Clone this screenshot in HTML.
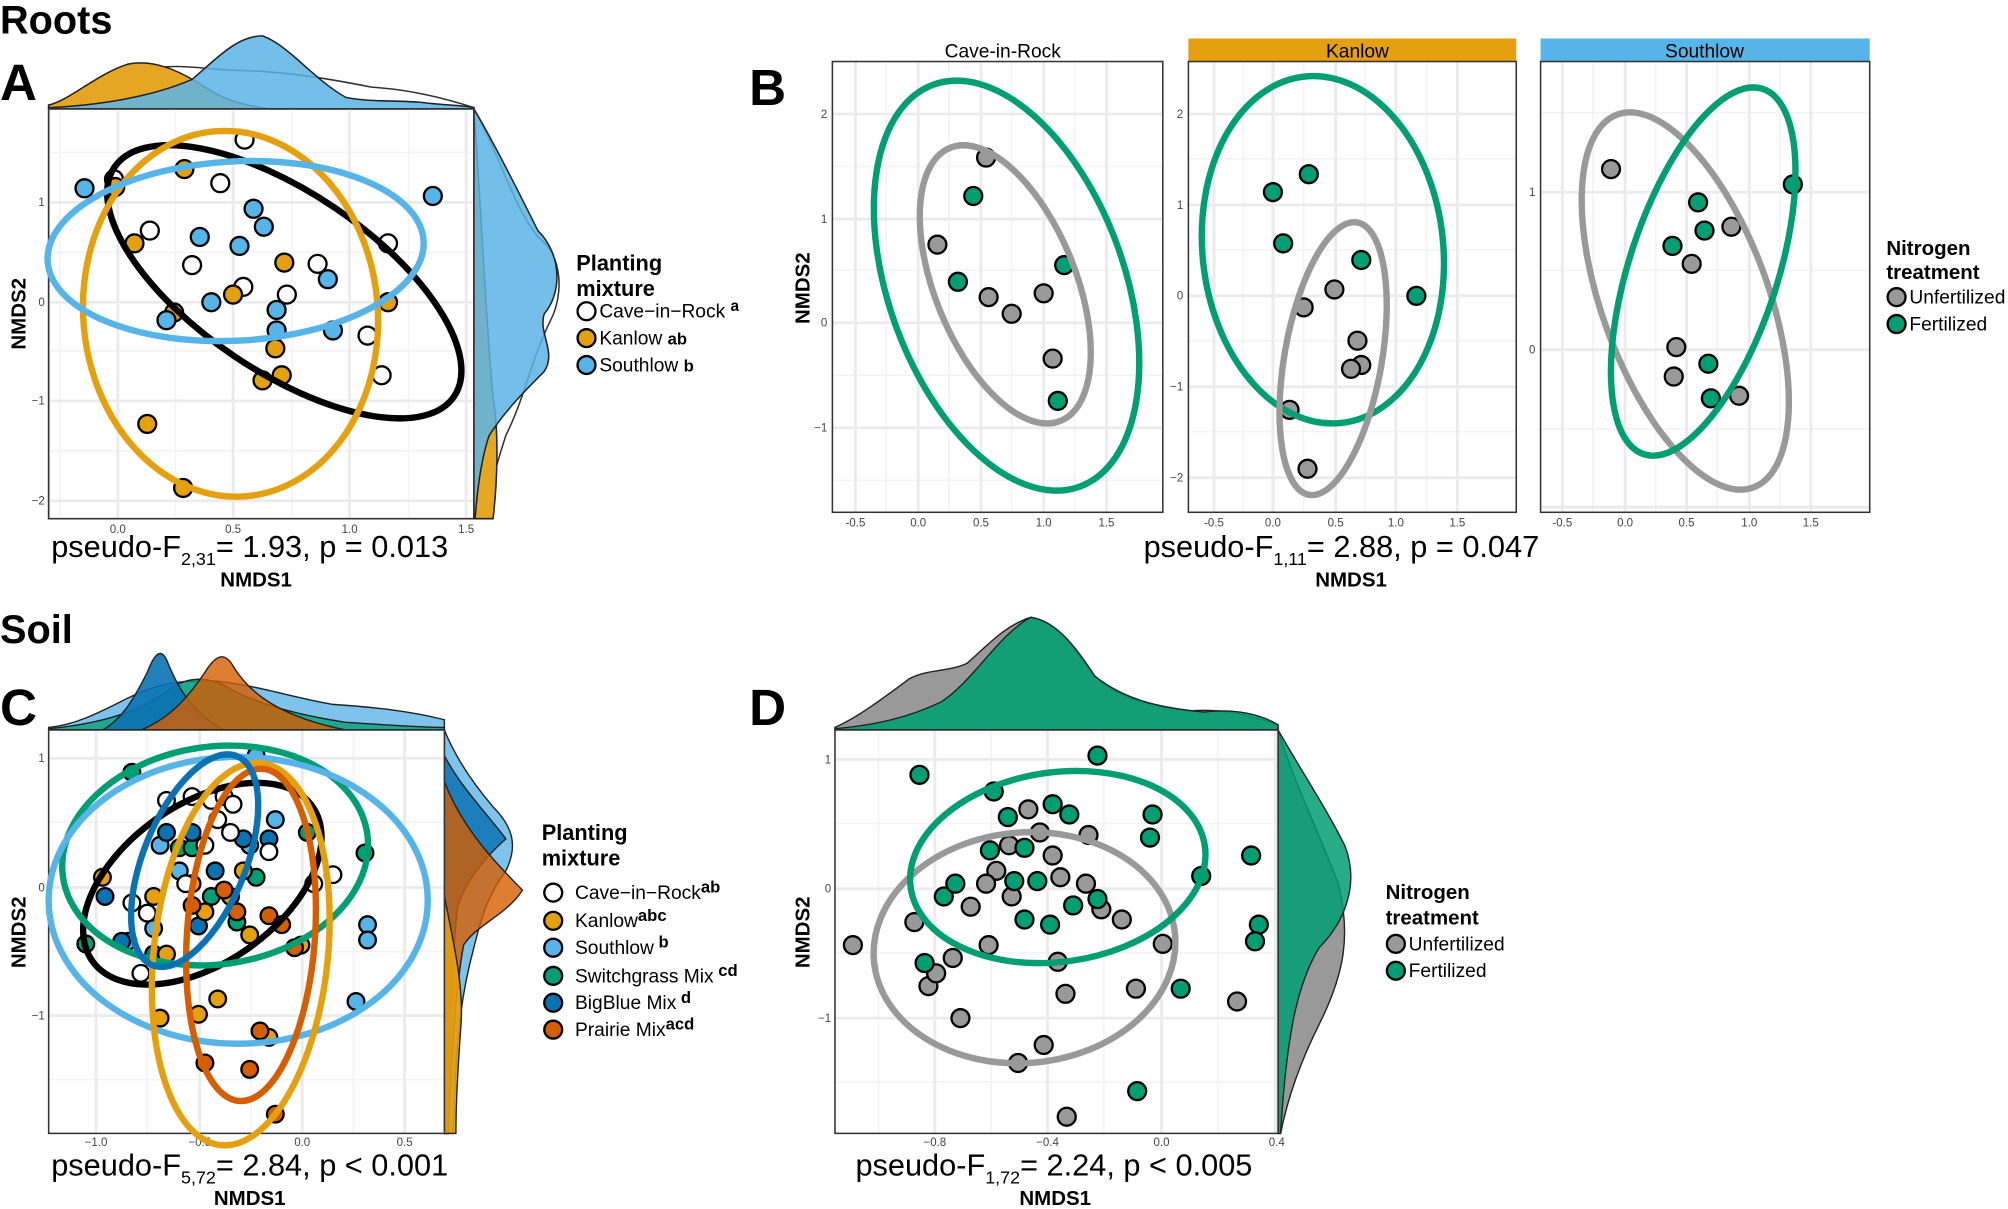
<!DOCTYPE html>
<html><head><meta charset="utf-8"><style>
html,body{margin:0;padding:0;background:#fff;}
svg{display:block;font-family:"Liberation Sans",sans-serif;}
</style></head><body>
<svg width="2008" height="1209" viewBox="0 0 1568 944" xmlns="http://www.w3.org/2000/svg">
<style>
.g{stroke:#ebebeb;stroke-width:2.2;}
.gm{stroke:#f3f3f3;stroke-width:1.2;}
.tk{font-size:9px;fill:#444;}
.pt{stroke:#000;stroke-width:1.8;}
.el{fill:none;stroke-width:5;}
.lab{font-size:16px;font-weight:bold;}
.lg{font-size:15px;}
.big{font-size:24px;}
</style>
<text x="0" y="26" font-size="31" font-weight="bold">Roots</text>
<text x="0" y="78" font-size="40" font-weight="bold">A</text>
<text x="585" y="82" font-size="40" font-weight="bold">B</text>
<text x="0" y="502" font-size="31" font-weight="bold">Soil</text>
<text x="0" y="566" font-size="40" font-weight="bold">C</text>
<text x="585" y="566" font-size="40" font-weight="bold">D</text>

<!-- ===== Panel A ===== -->
<path d="M38,82 C60,78 80,62 110,55 C140,48 160,55 190,55 C220,56 250,60 290,68 C320,70 345,76 370,84 L370,85 L38,85 Z" fill="none" stroke="#333" stroke-width="1.2"/>
<path d="M38,82 C55,78 75,58 100,50 C120,46 140,55 160,68 C175,78 190,82 210,85 L38,85 Z" fill="#e5a623" stroke="#222" stroke-width="1.2"/>
<path d="M38,84 C80,82 120,75 150,62 C170,45 185,28 205,28 C225,35 245,62 270,76 C290,80 310,78 330,80 C345,82 360,82 370,84 L370,85 L38,85 Z" fill="#5cb4e6" fill-opacity="0.85" stroke="#222" stroke-width="1.2"/>
<line x1="38" y1="85" x2="370" y2="85" stroke="#000" stroke-width="1.2"/>
<path d="M370,85 C390,120 400,160 420,185 C440,200 440,230 430,250 C415,280 410,310 395,340 C385,370 380,395 378,405 L370,405 Z" fill="none" stroke="#333" stroke-width="1.2"/>
<path d="M370,85 C375,150 380,260 385,310 C390,340 388,380 385,405 L370,405 Z" fill="#e5a623" stroke="#222" stroke-width="1.2"/>
<path d="M370,85 C385,110 405,150 420,180 C440,200 438,230 425,245 C420,260 435,275 425,290 C410,305 395,320 382,340 C375,360 372,390 371,405 L370,405 Z" fill="#5cb4e6" fill-opacity="0.85" stroke="#222" stroke-width="1.2"/>
<rect x="38" y="85" width="332" height="320" fill="#fff" stroke="#333" stroke-width="1.2"/>
<g class="gm"><line x1="47" y1="85" x2="47" y2="405"/><line x1="137" y1="85" x2="137" y2="405"/><line x1="228" y1="85" x2="228" y2="405"/><line x1="319" y1="85" x2="319" y2="405"/>
<line x1="38" y1="119" x2="370" y2="119"/><line x1="38" y1="197" x2="370" y2="197"/><line x1="38" y1="274" x2="370" y2="274"/><line x1="38" y1="352" x2="370" y2="352"/></g>
<g class="g"><line x1="92" y1="85" x2="92" y2="405"/><line x1="182" y1="85" x2="182" y2="405"/><line x1="273" y1="85" x2="273" y2="405"/><line x1="364" y1="85" x2="364" y2="405"/>
<line x1="38" y1="158" x2="370" y2="158"/><line x1="38" y1="236" x2="370" y2="236"/><line x1="38" y1="313" x2="370" y2="313"/><line x1="38" y1="391" x2="370" y2="391"/></g>
<rect x="38" y="85" width="332" height="320" fill="none" stroke="#333" stroke-width="1.2"/>
<g class="tk" text-anchor="middle"><text x="92" y="416">0.0</text><text x="182" y="416">0.5</text><text x="273" y="416">1.0</text><text x="364" y="416">1.5</text></g>
<g class="tk" text-anchor="end"><text x="35" y="161">1</text><text x="35" y="239">0</text><text x="35" y="316">−1</text><text x="35" y="394">−2</text></g>
<text class="big" x="40" y="435">pseudo-F<tspan font-size="14" dy="6">2,31</tspan><tspan dy="-6">=  1.93, p = 0.013</tspan></text>
<text class="lab" x="200" y="458" text-anchor="middle">NMDS1</text>
<text class="lab" transform="translate(20,245) rotate(-90)" text-anchor="middle">NMDS2</text>
<g class="pt">
<circle cx="89" cy="140" r="7" fill="#fff"/><circle cx="117" cy="180" r="7" fill="#fff"/><circle cx="150" cy="207" r="7" fill="#fff"/><circle cx="172" cy="143" r="7" fill="#fff"/><circle cx="191" cy="109" r="7" fill="#fff"/><circle cx="224" cy="230" r="7" fill="#fff"/><circle cx="303" cy="190" r="7" fill="#fff"/><circle cx="287" cy="262" r="7" fill="#fff"/><circle cx="298" cy="293" r="7" fill="#fff"/><circle cx="190" cy="224" r="7" fill="#fff"/><circle cx="248" cy="206" r="7" fill="#fff"/>
<circle cx="144" cy="132" r="7" fill="#e5a00f"/><circle cx="222" cy="205" r="7" fill="#e5a00f"/><circle cx="105" cy="190" r="7" fill="#e5a00f"/><circle cx="182" cy="230" r="7" fill="#e5a00f"/><circle cx="136" cy="244" r="7" fill="#e5a00f"/><circle cx="215" cy="272" r="7" fill="#e5a00f"/><circle cx="205" cy="297" r="7" fill="#e5a00f"/><circle cx="220" cy="293" r="7" fill="#e5a00f"/><circle cx="115" cy="331" r="7" fill="#e5a00f"/><circle cx="143" cy="381" r="7" fill="#e5a00f"/><circle cx="90" cy="146" r="7" fill="#e5a00f"/><circle cx="303" cy="236" r="7" fill="#e5a00f"/>
<circle cx="66" cy="147" r="7" fill="#56b4e9"/><circle cx="338" cy="153" r="7" fill="#56b4e9"/><circle cx="198" cy="163" r="7" fill="#56b4e9"/><circle cx="156" cy="185" r="7" fill="#56b4e9"/><circle cx="187" cy="192" r="7" fill="#56b4e9"/><circle cx="206" cy="177" r="7" fill="#56b4e9"/><circle cx="256" cy="218" r="7" fill="#56b4e9"/><circle cx="165" cy="236" r="7" fill="#56b4e9"/><circle cx="216" cy="242" r="7" fill="#56b4e9"/><circle cx="260" cy="258" r="7" fill="#56b4e9"/><circle cx="216" cy="258" r="7" fill="#56b4e9"/><circle cx="130" cy="250" r="7" fill="#56b4e9"/>
</g>
<ellipse class="el" cx="222" cy="220" rx="160" ry="70" transform="rotate(34 222 220)" stroke="#000"/>
<ellipse class="el" cx="180" cy="245" rx="115" ry="143" transform="rotate(-5 180 245)" stroke="#e5a00f"/>
<ellipse class="el" cx="184" cy="196" rx="147" ry="70" transform="rotate(-3 184 196)" stroke="#56b4e9"/>
<text x="450" y="211" font-size="17" font-weight="bold">Planting</text>
<text x="450" y="231" font-size="17" font-weight="bold">mixture</text>
<circle cx="458" cy="243" r="7" fill="#fff" class="pt"/><text class="lg" x="468" y="248">Cave−in−Rock <tspan font-weight="bold" font-size="12" dy="-5">a</tspan></text>
<circle cx="458" cy="264" r="7" fill="#e5a00f" class="pt"/><text class="lg" x="468" y="269">Kanlow <tspan font-weight="bold" font-size="13">ab</tspan></text>
<circle cx="458" cy="285" r="7" fill="#56b4e9" class="pt"/><text class="lg" x="468" y="290">Southlow <tspan font-weight="bold" font-size="13">b</tspan></text>

<!-- ===== Panel B ===== -->
<text x="783" y="45" font-size="15" text-anchor="middle">Cave-in-Rock</text>
<rect x="928" y="30" width="256" height="18" fill="#e5a00f"/><text x="1060" y="45" font-size="15" text-anchor="middle">Kanlow</text>
<rect x="1203" y="30" width="257" height="18" fill="#56b4e9"/><text x="1331" y="45" font-size="15" text-anchor="middle">Southlow</text>
<g class="gm"><line x1="692" y1="48" x2="692" y2="400"/><line x1="741" y1="48" x2="741" y2="400"/><line x1="790" y1="48" x2="790" y2="400"/><line x1="839" y1="48" x2="839" y2="400"/><line x1="650" y1="130" x2="908" y2="130"/><line x1="650" y1="211" x2="908" y2="211"/><line x1="650" y1="293" x2="908" y2="293"/><line x1="650" y1="375" x2="908" y2="375"/></g>
<g class="g"><line x1="668" y1="48" x2="668" y2="400"/><line x1="717" y1="48" x2="717" y2="400"/><line x1="766" y1="48" x2="766" y2="400"/><line x1="815" y1="48" x2="815" y2="400"/><line x1="864" y1="48" x2="864" y2="400"/><line x1="650" y1="89" x2="908" y2="89"/><line x1="650" y1="171" x2="908" y2="171"/><line x1="650" y1="252" x2="908" y2="252"/><line x1="650" y1="334" x2="908" y2="334"/></g>
<rect x="650" y="48" width="258" height="352" fill="none" stroke="#333" stroke-width="1.2"/>
<g class="gm"><line x1="971" y1="48" x2="971" y2="400"/><line x1="1018" y1="48" x2="1018" y2="400"/><line x1="1066" y1="48" x2="1066" y2="400"/><line x1="1114" y1="48" x2="1114" y2="400"/><line x1="928" y1="124" x2="1184" y2="124"/><line x1="928" y1="195" x2="1184" y2="195"/><line x1="928" y1="266" x2="1184" y2="266"/><line x1="928" y1="337" x2="1184" y2="337"/></g>
<g class="g"><line x1="948" y1="48" x2="948" y2="400"/><line x1="994" y1="48" x2="994" y2="400"/><line x1="1043" y1="48" x2="1043" y2="400"/><line x1="1090" y1="48" x2="1090" y2="400"/><line x1="1138" y1="48" x2="1138" y2="400"/><line x1="928" y1="89" x2="1184" y2="89"/><line x1="928" y1="160" x2="1184" y2="160"/><line x1="928" y1="231" x2="1184" y2="231"/><line x1="928" y1="302" x2="1184" y2="302"/><line x1="928" y1="373" x2="1184" y2="373"/></g>
<rect x="928" y="48" width="256" height="352" fill="none" stroke="#333" stroke-width="1.2"/>
<g class="gm"><line x1="1244" y1="48" x2="1244" y2="400"/><line x1="1293" y1="48" x2="1293" y2="400"/><line x1="1341" y1="48" x2="1341" y2="400"/><line x1="1390" y1="48" x2="1390" y2="400"/><line x1="1203" y1="88" x2="1460" y2="88"/><line x1="1203" y1="211" x2="1460" y2="211"/><line x1="1203" y1="335" x2="1460" y2="335"/></g>
<g class="g"><line x1="1220" y1="48" x2="1220" y2="400"/><line x1="1269" y1="48" x2="1269" y2="400"/><line x1="1317" y1="48" x2="1317" y2="400"/><line x1="1366" y1="48" x2="1366" y2="400"/><line x1="1414" y1="48" x2="1414" y2="400"/><line x1="1203" y1="150" x2="1460" y2="150"/><line x1="1203" y1="273" x2="1460" y2="273"/><line x1="1203" y1="396" x2="1460" y2="396"/></g>
<rect x="1203" y="48" width="257" height="352" fill="none" stroke="#333" stroke-width="1.2"/>
<g class="tk" text-anchor="middle">
<text x="668" y="411">-0.5</text><text x="717" y="411">0.0</text><text x="766" y="411">0.5</text><text x="815" y="411">1.0</text><text x="864" y="411">1.5</text>
<text x="948" y="411">-0.5</text><text x="994" y="411">0.0</text><text x="1043" y="411">0.5</text><text x="1090" y="411">1.0</text><text x="1138" y="411">1.5</text>
<text x="1220" y="411">-0.5</text><text x="1269" y="411">0.0</text><text x="1317" y="411">0.5</text><text x="1366" y="411">1.0</text><text x="1414" y="411">1.5</text></g>
<g class="tk" text-anchor="end">
<text x="646" y="92">2</text><text x="646" y="174">1</text><text x="646" y="255">0</text><text x="646" y="337">−1</text>
<text x="924" y="92">2</text><text x="924" y="163">1</text><text x="924" y="234">0</text><text x="924" y="305">−1</text><text x="924" y="376">−2</text>
<text x="1199" y="153">1</text><text x="1199" y="276">0</text></g>
<g class="pt">
<circle cx="770" cy="123" r="7" fill="#999"/><circle cx="732" cy="191" r="7" fill="#999"/><circle cx="772" cy="232" r="7" fill="#999"/><circle cx="790" cy="245" r="7" fill="#999"/><circle cx="815" cy="229" r="7" fill="#999"/><circle cx="822" cy="280" r="7" fill="#999"/>
<circle cx="760" cy="153" r="7" fill="#009e73"/><circle cx="748" cy="220" r="7" fill="#009e73"/><circle cx="831" cy="207" r="7" fill="#009e73"/><circle cx="826" cy="313" r="7" fill="#009e73"/>
<circle cx="994" cy="150" r="7" fill="#009e73"/><circle cx="1022" cy="136" r="7" fill="#009e73"/><circle cx="1002" cy="190" r="7" fill="#009e73"/><circle cx="1063" cy="203" r="7" fill="#009e73"/><circle cx="1106" cy="231" r="7" fill="#009e73"/>
<circle cx="1018" cy="240" r="7" fill="#999"/><circle cx="1042" cy="226" r="7" fill="#999"/><circle cx="1060" cy="266" r="7" fill="#999"/><circle cx="1063" cy="285" r="7" fill="#999"/><circle cx="1055" cy="288" r="7" fill="#999"/><circle cx="1007" cy="320" r="7" fill="#999"/><circle cx="1021" cy="366" r="7" fill="#999"/>
<circle cx="1258" cy="132" r="7" fill="#999"/><circle cx="1321" cy="206" r="7" fill="#999"/><circle cx="1352" cy="177" r="7" fill="#999"/><circle cx="1309" cy="271" r="7" fill="#999"/><circle cx="1307" cy="294" r="7" fill="#999"/><circle cx="1358" cy="309" r="7" fill="#999"/>
<circle cx="1326" cy="158" r="7" fill="#009e73"/><circle cx="1331" cy="180" r="7" fill="#009e73"/><circle cx="1306" cy="192" r="7" fill="#009e73"/><circle cx="1400" cy="144" r="7" fill="#009e73"/><circle cx="1334" cy="284" r="7" fill="#009e73"/><circle cx="1336" cy="311" r="7" fill="#009e73"/>
</g>
<ellipse class="el" cx="786" cy="223" rx="92" ry="167" transform="rotate(-20 786 223)" stroke="#009e73"/>
<ellipse class="el" cx="785" cy="222" rx="55" ry="115" transform="rotate(-22 785 222)" stroke="#999"/>
<ellipse class="el" cx="1033" cy="195" rx="94" ry="136" transform="rotate(-6 1033 195)" stroke="#009e73"/>
<ellipse class="el" cx="1041" cy="280" rx="38" ry="108" transform="rotate(10 1041 280)" stroke="#999"/>
<ellipse class="el" cx="1316" cy="235" rx="65" ry="155" transform="rotate(-20 1316 235)" stroke="#999"/>
<ellipse class="el" cx="1330" cy="212" rx="58" ry="150" transform="rotate(18 1330 212)" stroke="#009e73"/>
<text class="big" x="893" y="435">pseudo-F<tspan font-size="14" dy="6">1,11</tspan><tspan dy="-6">=  2.88, p = 0.047</tspan></text>
<text class="lab" x="1055" y="458" text-anchor="middle">NMDS1</text>
<text class="lab" transform="translate(632,225) rotate(-90)" text-anchor="middle">NMDS2</text>
<text x="1473" y="199" font-size="16" font-weight="bold">Nitrogen</text>
<text x="1473" y="218" font-size="16" font-weight="bold">treatment</text>
<circle cx="1481" cy="232" r="7" fill="#999" class="pt"/><text class="lg" x="1491" y="237">Unfertilized</text>
<circle cx="1481" cy="253" r="7" fill="#009e73" class="pt"/><text class="lg" x="1491" y="258">Fertilized</text>

<!-- ===== Panel C ===== -->
<path d="M38,568 C60,566 80,555 100,545 C120,535 140,530 170,532 C200,535 230,545 260,550 C290,552 320,555 347,562 L347,570 L38,570 Z" fill="#5cb4e6" fill-opacity="0.8" stroke="#222" stroke-width="1.1"/>
<path d="M38,569 C80,565 110,555 130,540 C145,528 160,528 175,535 C195,548 230,558 270,564 C300,566 330,568 347,568 L347,570 L38,570 Z" fill="#009e73" fill-opacity="0.75" stroke="#222" stroke-width="1.1"/>
<path d="M80,570 C95,562 105,545 115,525 C120,512 125,505 130,515 C138,535 148,555 175,570 Z" fill="#0a72b2" fill-opacity="0.9" stroke="#222" stroke-width="1.1"/>
<path d="M110,570 C135,560 150,540 160,525 C168,512 175,508 182,520 C195,542 220,560 270,570 Z" fill="#d55e00" fill-opacity="0.8" stroke="#222" stroke-width="1.1"/>
<line x1="38" y1="570" x2="347" y2="570" stroke="#000" stroke-width="1.2"/>
<path d="M347,570 C355,590 368,610 385,630 C400,645 405,660 395,680 C380,700 375,720 370,740 C362,770 356,800 354,885 L347,885 Z" fill="#5cb4e6" fill-opacity="0.8" stroke="#222" stroke-width="1.1"/>
<path d="M347,590 C360,615 380,635 395,655 C378,670 362,690 357,710 C353,750 351,810 350,885 L347,885 Z" fill="#0a72b2" fill-opacity="0.85" stroke="#222" stroke-width="1.1"/>
<path d="M347,610 C360,645 385,672 408,695 C395,715 372,722 362,738 C356,770 352,830 350,885 L347,885 Z" fill="#d55e00" fill-opacity="0.8" stroke="#222" stroke-width="1.1"/>
<path d="M347,700 C355,740 362,770 360,800 C357,840 356,870 356,885 L347,885 Z" fill="#e5a00f" fill-opacity="0.9" stroke="#222" stroke-width="1.1"/>
<rect x="38" y="570" width="309" height="315" fill="#fff"/>
<g class="gm"><line x1="115" y1="570" x2="115" y2="885"/><line x1="196" y1="570" x2="196" y2="885"/><line x1="276" y1="570" x2="276" y2="885"/><line x1="38" y1="642" x2="347" y2="642"/><line x1="38" y1="743" x2="347" y2="743"/><line x1="38" y1="843" x2="347" y2="843"/></g>
<g class="g"><line x1="75" y1="570" x2="75" y2="885"/><line x1="156" y1="570" x2="156" y2="885"/><line x1="236" y1="570" x2="236" y2="885"/><line x1="316" y1="570" x2="316" y2="885"/><line x1="38" y1="592" x2="347" y2="592"/><line x1="38" y1="693" x2="347" y2="693"/><line x1="38" y1="793" x2="347" y2="793"/></g>
<rect x="38" y="570" width="309" height="315" fill="none" stroke="#333" stroke-width="1.2"/>
<g class="tk" text-anchor="middle"><text x="75" y="895">−1.0</text><text x="156" y="895">−0.5</text><text x="236" y="895">0.0</text><text x="316" y="895">0.5</text></g>
<g class="tk" text-anchor="end"><text x="35" y="595">1</text><text x="35" y="696">0</text><text x="35" y="796">−1</text></g>
<g class="pt" stroke-width="1.6">
<circle cx="103" cy="603" r="6.5" fill="#009e73"/><circle cx="67" cy="737" r="6.5" fill="#009e73"/><circle cx="285" cy="666" r="6.5" fill="#009e73"/><circle cx="140" cy="662" r="6.5" fill="#009e73"/><circle cx="150" cy="662" r="6.5" fill="#009e73"/><circle cx="185" cy="720" r="6.5" fill="#009e73"/><circle cx="200" cy="685" r="6.5" fill="#009e73"/><circle cx="240" cy="650" r="6.5" fill="#009e73"/><circle cx="165" cy="700" r="6.5" fill="#009e73"/>
<circle cx="200" cy="590" r="6.5" fill="#56b4e9"/><circle cx="287" cy="722" r="6.5" fill="#56b4e9"/><circle cx="287" cy="734" r="6.5" fill="#56b4e9"/><circle cx="278" cy="782" r="6.5" fill="#56b4e9"/><circle cx="140" cy="680" r="6.5" fill="#56b4e9"/><circle cx="120" cy="725" r="6.5" fill="#56b4e9"/><circle cx="100" cy="735" r="6.5" fill="#56b4e9"/><circle cx="195" cy="660" r="6.5" fill="#56b4e9"/><circle cx="215" cy="640" r="6.5" fill="#56b4e9"/><circle cx="125" cy="660" r="6.5" fill="#56b4e9"/>
<circle cx="82" cy="700" r="6.5" fill="#0a72b2"/><circle cx="95" cy="735" r="6.5" fill="#0a72b2"/><circle cx="130" cy="650" r="6.5" fill="#0a72b2"/><circle cx="150" cy="650" r="6.5" fill="#0a72b2"/><circle cx="168" cy="680" r="6.5" fill="#0a72b2"/><circle cx="190" cy="655" r="6.5" fill="#0a72b2"/><circle cx="210" cy="655" r="6.5" fill="#0a72b2"/><circle cx="155" cy="723" r="6.5" fill="#0a72b2"/><circle cx="120" cy="745" r="6.5" fill="#0a72b2"/>
<circle cx="80" cy="685" r="6.5" fill="#e5a00f"/><circle cx="120" cy="700" r="6.5" fill="#e5a00f"/><circle cx="150" cy="690" r="6.5" fill="#e5a00f"/><circle cx="160" cy="712" r="6.5" fill="#e5a00f"/><circle cx="180" cy="700" r="6.5" fill="#e5a00f"/><circle cx="195" cy="730" r="6.5" fill="#e5a00f"/><circle cx="235" cy="738" r="6.5" fill="#e5a00f"/><circle cx="125" cy="795" r="6.5" fill="#e5a00f"/><circle cx="155" cy="792" r="6.5" fill="#e5a00f"/><circle cx="210" cy="810" r="6.5" fill="#e5a00f"/><circle cx="170" cy="780" r="6.5" fill="#e5a00f"/><circle cx="190" cy="680" r="6.5" fill="#e5a00f"/><circle cx="130" cy="745" r="6.5" fill="#e5a00f"/>
<circle cx="150" cy="707" r="6.5" fill="#d55e00"/><circle cx="175" cy="695" r="6.5" fill="#d55e00"/><circle cx="185" cy="712" r="6.5" fill="#d55e00"/><circle cx="210" cy="715" r="6.5" fill="#d55e00"/><circle cx="220" cy="722" r="6.5" fill="#d55e00"/><circle cx="160" cy="830" r="6.5" fill="#d55e00"/><circle cx="203" cy="805" r="6.5" fill="#d55e00"/><circle cx="215" cy="870" r="6.5" fill="#d55e00"/><circle cx="195" cy="835" r="6.5" fill="#d55e00"/><circle cx="230" cy="740" r="6.5" fill="#d55e00"/>
<circle cx="103" cy="705" r="6.5" fill="#fff"/><circle cx="115" cy="713" r="6.5" fill="#fff"/><circle cx="130" cy="625" r="6.5" fill="#fff"/><circle cx="150" cy="622" r="6.5" fill="#fff"/><circle cx="165" cy="625" r="6.5" fill="#fff"/><circle cx="175" cy="622" r="6.5" fill="#fff"/><circle cx="182" cy="628" r="6.5" fill="#fff"/><circle cx="170" cy="640" r="6.5" fill="#fff"/><circle cx="160" cy="660" r="6.5" fill="#fff"/><circle cx="145" cy="690" r="6.5" fill="#fff"/><circle cx="110" cy="760" r="6.5" fill="#fff"/><circle cx="260" cy="683" r="6.5" fill="#fff"/><circle cx="245" cy="690" r="6.5" fill="#fff"/><circle cx="180" cy="650" r="6.5" fill="#fff"/><circle cx="210" cy="665" r="6.5" fill="#fff"/>
</g>
<ellipse class="el" cx="158" cy="690" rx="105" ry="62" transform="rotate(-35 158 690)" stroke="#000"/>
<ellipse class="el" cx="168" cy="668" rx="120" ry="85" transform="rotate(-8 168 668)" stroke="#009e73"/>
<ellipse class="el" cx="186" cy="703" rx="148" ry="112" stroke="#56b4e9"/>
<ellipse class="el" cx="188" cy="745" rx="68" ry="150" transform="rotate(6 188 745)" stroke="#e5a00f"/>
<ellipse class="el" cx="196" cy="730" rx="50" ry="130" transform="rotate(4 196 730)" stroke="#d55e00"/>
<ellipse class="el" cx="152" cy="672" rx="40" ry="88" transform="rotate(22 152 672)" stroke="#0a72b2"/>
<text class="big" x="40" y="918">pseudo-F<tspan font-size="14" dy="6">5,72</tspan><tspan dy="-6">=  2.84, p &lt; 0.001</tspan></text>
<text class="lab" x="195" y="941" text-anchor="middle">NMDS1</text>
<text class="lab" transform="translate(20,728) rotate(-90)" text-anchor="middle">NMDS2</text>
<text x="423" y="656" font-size="17" font-weight="bold">Planting</text>
<text x="423" y="676" font-size="17" font-weight="bold">mixture</text>
<g class="pt"><circle cx="432" cy="697" r="7" fill="#fff"/><circle cx="432" cy="719" r="7" fill="#e5a00f"/><circle cx="432" cy="740" r="7" fill="#56b4e9"/><circle cx="432" cy="762" r="7" fill="#009e73"/><circle cx="432" cy="783" r="7" fill="#0a72b2"/><circle cx="432" cy="804" r="7" fill="#d55e00"/></g>
<text class="lg" x="449" y="702">Cave−in−Rock<tspan font-weight="bold" font-size="13" dy="-5">ab</tspan></text>
<text class="lg" x="449" y="724">Kanlow<tspan font-weight="bold" font-size="13" dy="-5">abc</tspan></text>
<text class="lg" x="449" y="745">Southlow<tspan font-weight="bold" font-size="13" dy="-5"> b</tspan></text>
<text class="lg" x="449" y="767">Switchgrass Mix<tspan font-weight="bold" font-size="13" dy="-5"> cd</tspan></text>
<text class="lg" x="449" y="788">BigBlue Mix<tspan font-weight="bold" font-size="13" dy="-5"> d</tspan></text>
<text class="lg" x="449" y="809">Prairie Mix<tspan font-weight="bold" font-size="13" dy="-5">acd</tspan></text>

<!-- ===== Panel D ===== -->
<path d="M652,568 C670,560 690,545 710,530 C725,522 740,525 755,518 C770,505 785,488 805,482 C825,485 838,505 852,525 C870,545 900,552 930,555 C960,553 980,560 998,566 L998,570 L652,570 Z" fill="#999" stroke="#222" stroke-width="1.1"/>
<path d="M652,569 C685,566 710,560 735,548 C760,532 780,495 805,482 C825,485 840,505 855,528 C880,548 910,553 940,556 C965,553 985,558 998,566 L998,570 L652,570 Z" fill="#009e73" fill-opacity="0.88" stroke="#222" stroke-width="1.1"/>
<line x1="652" y1="570" x2="998" y2="570" stroke="#000" stroke-width="1.2"/>
<path d="M998,570 C1010,610 1030,650 1045,690 C1055,730 1050,760 1030,800 C1015,830 1005,860 1000,885 L998,885 Z" fill="#999" stroke="#222" stroke-width="1.1"/>
<path d="M998,570 C1015,600 1035,630 1050,660 C1062,690 1050,720 1030,740 C1015,765 1005,800 1000,885 L998,885 Z" fill="#009e73" fill-opacity="0.85" stroke="#222" stroke-width="1.1"/>
<rect x="652" y="570" width="346" height="315" fill="#fff"/>
<g class="gm"><line x1="686" y1="570" x2="686" y2="885"/><line x1="774" y1="570" x2="774" y2="885"/><line x1="862" y1="570" x2="862" y2="885"/><line x1="951" y1="570" x2="951" y2="885"/><line x1="652" y1="643" x2="998" y2="643"/><line x1="652" y1="744" x2="998" y2="744"/><line x1="652" y1="845" x2="998" y2="845"/></g>
<g class="g"><line x1="730" y1="570" x2="730" y2="885"/><line x1="818" y1="570" x2="818" y2="885"/><line x1="907" y1="570" x2="907" y2="885"/><line x1="996" y1="570" x2="996" y2="885"/><line x1="652" y1="593" x2="998" y2="593"/><line x1="652" y1="694" x2="998" y2="694"/><line x1="652" y1="795" x2="998" y2="795"/></g>
<rect x="652" y="570" width="346" height="315" fill="none" stroke="#333" stroke-width="1.2"/>
<g class="tk" text-anchor="middle"><text x="730" y="895">−0.8</text><text x="818" y="895">−0.4</text><text x="907" y="895">0.0</text><text x="997" y="895">0.4</text></g>
<g class="tk" text-anchor="end"><text x="649" y="596">1</text><text x="649" y="697">0</text><text x="649" y="798">−1</text></g>
<g class="pt">
<circle cx="666" cy="738" r="7" fill="#999"/><circle cx="714" cy="720" r="7" fill="#999"/><circle cx="725" cy="770" r="7" fill="#999"/><circle cx="731" cy="760" r="7" fill="#999"/><circle cx="744" cy="748" r="7" fill="#999"/><circle cx="750" cy="795" r="7" fill="#999"/><circle cx="758" cy="708" r="7" fill="#999"/><circle cx="772" cy="738" r="7" fill="#999"/><circle cx="778" cy="680" r="7" fill="#999"/><circle cx="788" cy="660" r="7" fill="#999"/><circle cx="790" cy="700" r="7" fill="#999"/><circle cx="803" cy="632" r="7" fill="#999"/><circle cx="812" cy="650" r="7" fill="#999"/><circle cx="822" cy="668" r="7" fill="#999"/><circle cx="828" cy="685" r="7" fill="#999"/><circle cx="848" cy="690" r="7" fill="#999"/><circle cx="850" cy="652" r="7" fill="#999"/><circle cx="860" cy="710" r="7" fill="#999"/><circle cx="876" cy="718" r="7" fill="#999"/><circle cx="908" cy="737" r="7" fill="#999"/><circle cx="887" cy="772" r="7" fill="#999"/><circle cx="832" cy="776" r="7" fill="#999"/><circle cx="815" cy="816" r="7" fill="#999"/><circle cx="795" cy="830" r="7" fill="#999"/><circle cx="833" cy="872" r="7" fill="#999"/><circle cx="826" cy="751" r="7" fill="#999"/><circle cx="966" cy="782" r="7" fill="#999"/><circle cx="770" cy="690" r="7" fill="#999"/>
<circle cx="718" cy="605" r="7" fill="#009e73"/><circle cx="737" cy="700" r="7" fill="#009e73"/><circle cx="746" cy="690" r="7" fill="#009e73"/><circle cx="722" cy="752" r="7" fill="#009e73"/><circle cx="776" cy="618" r="7" fill="#009e73"/><circle cx="787" cy="638" r="7" fill="#009e73"/><circle cx="773" cy="664" r="7" fill="#009e73"/><circle cx="800" cy="662" r="7" fill="#009e73"/><circle cx="810" cy="688" r="7" fill="#009e73"/><circle cx="822" cy="628" r="7" fill="#009e73"/><circle cx="835" cy="636" r="7" fill="#009e73"/><circle cx="838" cy="707" r="7" fill="#009e73"/><circle cx="820" cy="722" r="7" fill="#009e73"/><circle cx="800" cy="718" r="7" fill="#009e73"/><circle cx="857" cy="590" r="7" fill="#009e73"/><circle cx="900" cy="636" r="7" fill="#009e73"/><circle cx="898" cy="654" r="7" fill="#009e73"/><circle cx="938" cy="684" r="7" fill="#009e73"/><circle cx="922" cy="772" r="7" fill="#009e73"/><circle cx="977" cy="668" r="7" fill="#009e73"/><circle cx="983" cy="722" r="7" fill="#009e73"/><circle cx="980" cy="735" r="7" fill="#009e73"/><circle cx="888" cy="852" r="7" fill="#009e73"/><circle cx="857" cy="702" r="7" fill="#009e73"/><circle cx="792" cy="688" r="7" fill="#009e73"/>
</g>
<ellipse class="el" cx="800" cy="740" rx="118" ry="90" transform="rotate(-5 800 740)" stroke="#999"/>
<ellipse class="el" cx="826" cy="677" rx="116" ry="74" transform="rotate(-8 826 677)" stroke="#009e73"/>
<text class="big" x="668" y="918">pseudo-F<tspan font-size="14" dy="6">1,72</tspan><tspan dy="-6">=  2.24, p &lt; 0.005</tspan></text>
<text class="lab" x="824" y="941" text-anchor="middle">NMDS1</text>
<text class="lab" transform="translate(632,728) rotate(-90)" text-anchor="middle">NMDS2</text>
<text x="1082" y="702" font-size="16" font-weight="bold">Nitrogen</text>
<text x="1082" y="722" font-size="16" font-weight="bold">treatment</text>
<circle cx="1090" cy="737" r="7" fill="#999" class="pt"/><text class="lg" x="1100" y="742">Unfertilized</text>
<circle cx="1090" cy="758" r="7" fill="#009e73" class="pt"/><text class="lg" x="1100" y="763">Fertilized</text>
</svg>
</body></html>
